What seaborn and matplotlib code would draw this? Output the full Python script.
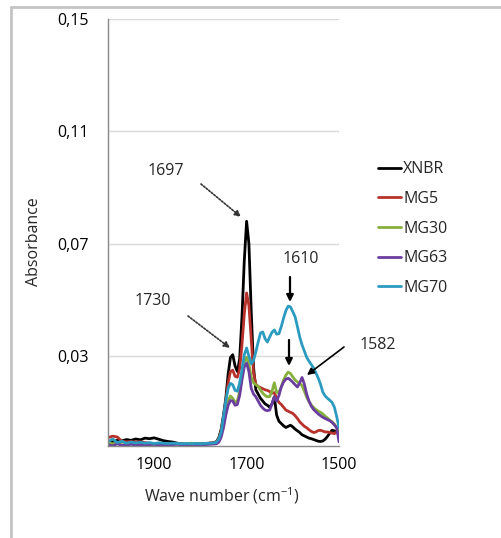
import numpy as np
import pandas as pd
import matplotlib
matplotlib.use("Agg")
import matplotlib.pyplot as plt
from matplotlib.ticker import FixedLocator, FuncFormatter
from matplotlib.lines import Line2D
import seaborn as sns

# ---------------- data ----------------
wavenumber = [2000, 1990, 1980, 1970, 1960, 1950, 1940, 1930, 1920, 1910, 1900, 1890,
              1880, 1870, 1860, 1850, 1840, 1830, 1820, 1810, 1800, 1790, 1780, 1770,
              1765, 1760, 1755, 1750, 1745, 1740, 1735, 1730, 1725, 1720, 1715, 1710,
              1705, 1700, 1695, 1690, 1685, 1680, 1675, 1670, 1665, 1660, 1655, 1650,
              1645, 1640, 1635, 1630, 1625, 1620, 1615, 1610, 1605, 1600, 1595, 1590,
              1585, 1580, 1575, 1570, 1565, 1560, 1555, 1550, 1545, 1540, 1535, 1530,
              1525, 1520, 1515, 1510, 1505, 1500]

xnbr = [-0.0015, -0.0005, 0.0000, -0.0002, 0.0003, 0.0000, 0.0005, 0.0002, 0.0008, 0.0006, 0.0009, 0.0004,
        -0.0001, -0.0004, -0.0006, -0.0010, -0.0012, -0.0014, -0.0014, -0.0012, -0.0013, -0.0011, -0.0010, -0.0008,
        -0.0004, 0.0010, 0.0040, 0.0090, 0.0150, 0.0235, 0.0295, 0.0305, 0.0265, 0.0245, 0.0290, 0.0440,
        0.0640, 0.0780, 0.0700, 0.0460, 0.0260, 0.0180, 0.0165, 0.0150, 0.0140, 0.0130, 0.0125, 0.0118,
        0.0130, 0.0155, 0.0090, 0.0068, 0.0060, 0.0052, 0.0046, 0.0050, 0.0054, 0.0048, 0.0040, 0.0034,
        0.0028, 0.0020, 0.0016, 0.0012, 0.0008, 0.0006, 0.0003, 0.0000, -0.0003, -0.0004, -0.0002, 0.0004,
        0.0014, 0.0026, 0.0036, 0.0034, 0.0030, 0.0025]

mg5 = [0.0010, 0.0015, 0.0012, -0.0003, -0.0005, -0.0004, -0.0006, -0.0005, -0.0008, -0.0010, -0.0012, -0.0010,
       -0.0011, -0.0012, -0.0013, -0.0012, -0.0013, -0.0014, -0.0013, -0.0012, -0.0012, -0.0011, -0.0010, -0.0008,
       -0.0005, 0.0008, 0.0035, 0.0080, 0.0140, 0.0205, 0.0245, 0.0250, 0.0228, 0.0225, 0.0255, 0.0340,
       0.0450, 0.0525, 0.0480, 0.0360, 0.0240, 0.0200, 0.0192, 0.0188, 0.0184, 0.0180, 0.0178, 0.0174,
       0.0168, 0.0170, 0.0150, 0.0135, 0.0128, 0.0118, 0.0108, 0.0104, 0.0100, 0.0096, 0.0088, 0.0078,
       0.0066, 0.0058, 0.0050, 0.0045, 0.0038, 0.0032, 0.0028, 0.0030, 0.0035, 0.0036, 0.0033, 0.0030,
       0.0030, 0.0028, 0.0026, 0.0024, 0.0030, 0.0036]

mg30 = [-0.0008, -0.0012, -0.0010, -0.0016, -0.0014, -0.0012, -0.0015, -0.0012, -0.0014, -0.0013, -0.0015, -0.0013,
        -0.0012, -0.0014, -0.0013, -0.0012, -0.0014, -0.0013, -0.0010, -0.0012, -0.0013, -0.0012, -0.0011, -0.0010,
        -0.0008, 0.0000, 0.0020, 0.0055, 0.0100, 0.0140, 0.0158, 0.0150, 0.0136, 0.0140, 0.0175, 0.0230,
        0.0280, 0.0296, 0.0270, 0.0225, 0.0205, 0.0198, 0.0192, 0.0180, 0.0168, 0.0160, 0.0155, 0.0156,
        0.0175, 0.0205, 0.0170, 0.0172, 0.0190, 0.0215, 0.0232, 0.0243, 0.0238, 0.0226, 0.0215, 0.0208,
        0.0202, 0.0195, 0.0175, 0.0154, 0.0138, 0.0126, 0.0117, 0.0110, 0.0104, 0.0100, 0.0094, 0.0086,
        0.0080, 0.0072, 0.0066, 0.0058, 0.0045, 0.0025]

mg63 = [-0.0015, -0.0020, -0.0012, -0.0018, -0.0016, -0.0014, -0.0016, -0.0015, -0.0017, -0.0015, -0.0014, -0.0016,
        -0.0015, -0.0016, -0.0015, -0.0014, -0.0016, -0.0015, -0.0014, -0.0015, -0.0016, -0.0015, -0.0014, -0.0013,
        -0.0012, -0.0006, 0.0012, 0.0045, 0.0090, 0.0125, 0.0142, 0.0140, 0.0125, 0.0128, 0.0160, 0.0215,
        0.0262, 0.0275, 0.0245, 0.0185, 0.0165, 0.0155, 0.0140, 0.0125, 0.0115, 0.0108, 0.0106, 0.0108,
        0.0130, 0.0155, 0.0140, 0.0160, 0.0190, 0.0208, 0.0218, 0.0221, 0.0215, 0.0207, 0.0198, 0.0190,
        0.0205, 0.0224, 0.0200, 0.0165, 0.0140, 0.0122, 0.0110, 0.0102, 0.0094, 0.0088, 0.0082, 0.0078,
        0.0074, 0.0070, 0.0064, 0.0055, 0.0045, -0.0005]

mg70 = [-0.0005, 0.0005, -0.0008, -0.0003, -0.0010, -0.0006, -0.0009, -0.0007, -0.0010, -0.0008, -0.0011, -0.0009,
        -0.0010, -0.0011, -0.0010, -0.0011, -0.0012, -0.0011, -0.0012, -0.0011, -0.0012, -0.0011, -0.0010, -0.0009,
        -0.0006, 0.0006, 0.0030, 0.0085, 0.0140, 0.0185, 0.0203, 0.0198, 0.0178, 0.0175, 0.0205, 0.0250,
        0.0305, 0.0329, 0.0300, 0.0272, 0.0285, 0.0315, 0.0350, 0.0382, 0.0386, 0.0362, 0.0350, 0.0368,
        0.0385, 0.0393, 0.0378, 0.0380, 0.0405, 0.0435, 0.0462, 0.0478, 0.0475, 0.0458, 0.0440, 0.0405,
        0.0368, 0.0340, 0.0318, 0.0296, 0.0282, 0.0270, 0.0258, 0.0240, 0.0222, 0.0200, 0.0172, 0.0158,
        0.0150, 0.0143, 0.0135, 0.0118, 0.0085, 0.0046]

series_names = ["XNBR", "MG5", "MG30", "MG63", "MG70"]
series_values = [xnbr, mg5, mg30, mg63, mg70]
y_tick_values = [0.03, 0.07, 0.11, 0.15]
x_tick_values = [1900, 1700, 1500]

colors = {"XNBR": "#000000", "MG5": "#B8312B", "MG30": "#86B03C",
          "MG63": "#6A3D9F", "MG70": "#2C9BC0"}

# ---------------- build frame ----------------
frames = []
for name, vals in zip(series_names, series_values):
    assert len(vals) == len(wavenumber), name
    frames.append(pd.DataFrame({"wn": wavenumber, "abs": vals, "series": name}))
df = pd.concat(frames, ignore_index=True)

# ---------------- plot ----------------
sns.set_theme(style="white")
plt.rcParams["font.family"] = ["Open Sans", "DejaVu Sans"]
plt.rcParams["mathtext.default"] = "regular"
FS = 11.5

W, H = 502, 538
fig = plt.figure(figsize=(W / 100, H / 100), dpi=100)
ax = fig.add_axes([108 / W, 1 - 446 / H, (339 - 108) / W, (446 - 19) / H])

sns.lineplot(data=df, x="wn", y="abs", hue="series", palette=colors,
             hue_order=series_names, linewidth=2.0, ax=ax, legend=True)

ax.set_xlim(2000, 1500)
ax.set_ylim(-0.002, 0.15)

ax.yaxis.set_major_locator(FixedLocator(y_tick_values))
ax.yaxis.set_minor_locator(FixedLocator([0.15 - 0.008 * i for i in range(20) if 0.15 - 0.008 * i > -0.0025]))
ax.xaxis.set_major_locator(FixedLocator(x_tick_values))
ax.xaxis.set_minor_locator(FixedLocator(list(range(2000, 1499, -40))))
ax.yaxis.set_major_formatter(FuncFormatter(lambda v, p: f"{v:.2f}".replace(".", ",")))
ax.xaxis.set_major_formatter(FuncFormatter(lambda v, p: f"{int(round(v))}"))

ax.grid(axis="y", which="major", color="#D9D9D9", linewidth=1.0)
ax.grid(axis="x", visible=False)
for s in ["top", "right"]:
    ax.spines[s].set_visible(False)
for s in ["left", "bottom"]:
    ax.spines[s].set_color("#888888")
    ax.spines[s].set_linewidth(1.0)
ax.tick_params(axis="both", which="both", direction="out", color="#888888",
               length=4, width=1, labelsize=FS, labelcolor="#000000")
ax.tick_params(axis="x", which="major", pad=4)
ax.tick_params(axis="y", which="major", pad=10)
ax.set_xlabel("")
ax.set_ylabel("")

fig.text(34 / W, 1 - 242 / H, "Absorbance", rotation=90, ha="center", va="center", fontsize=FS)
fig.text(222 / W, 1 - 496 / H, "Wave number (cm$^{-1}$)", ha="center", va="center", fontsize=FS)

# legend
leg = ax.legend(loc="upper left", bbox_to_anchor=(372 / W, 1 - 155 / H),
                bbox_transform=fig.transFigure, frameon=False, fontsize=FS,
                handlelength=1.4, handletextpad=0.15, labelspacing=0.85, borderaxespad=0)
for line in leg.get_lines():
    line.set_linewidth(2.0)

# annotations (positions in figure pixels, top-left origin)
def fp(px, py):
    return (px / W, 1 - py / H)

ax.annotate("", xy=fp(241, 217), xytext=fp(201, 184), xycoords="figure fraction",
            textcoords="figure fraction",
            arrowprops=dict(arrowstyle="-|>", linestyle=(0, (1, 1)), lw=1.2, color="#333333",
                            shrinkA=0, shrinkB=0, mutation_scale=9), annotation_clip=False)
ax.text(*fp(166, 171), "1697", transform=fig.transFigure, ha="center", va="center", fontsize=FS)
ax.annotate("", xy=fp(230, 348), xytext=fp(188, 316), xycoords="figure fraction",
            textcoords="figure fraction",
            arrowprops=dict(arrowstyle="-|>", linestyle=(0, (1, 1)), lw=1.2, color="#333333",
                            shrinkA=0, shrinkB=0, mutation_scale=9), annotation_clip=False)
ax.text(*fp(153, 301), "1730", transform=fig.transFigure, ha="center", va="center", fontsize=FS)
ax.text(*fp(301, 259), "1610", transform=fig.transFigure, ha="center", va="center", fontsize=FS)
ax.annotate("", xy=fp(290, 302), xytext=fp(290, 277), xycoords="figure fraction",
            textcoords="figure fraction",
            arrowprops=dict(arrowstyle="-|>", lw=1.6, color="#000000", shrinkA=0, shrinkB=0,
                            mutation_scale=10), annotation_clip=False)
ax.annotate("", xy=fp(289, 366), xytext=fp(289, 340), xycoords="figure fraction",
            textcoords="figure fraction",
            arrowprops=dict(arrowstyle="-|>", lw=1.6, color="#000000", shrinkA=0, shrinkB=0,
                            mutation_scale=10), annotation_clip=False)
ax.annotate("", xy=fp(307, 375), xytext=fp(344, 347), xycoords="figure fraction",
            textcoords="figure fraction",
            arrowprops=dict(arrowstyle="-|>", lw=1.2, color="#000000", shrinkA=0, shrinkB=0,
                            mutation_scale=10), annotation_clip=False)
ax.text(*fp(378, 345), "1582", transform=fig.transFigure, ha="center", va="center", fontsize=FS)

# chart-area border (top and left only)
fig.add_artist(Line2D([11 / W, 1.0], [1 - 7 / H, 1 - 7 / H], transform=fig.transFigure,
                      color="#C4C4C4", linewidth=2.0))
fig.add_artist(Line2D([11 / W, 11 / W], [0.0, 1 - 7 / H], transform=fig.transFigure,
                      color="#C4C4C4", linewidth=2.0))

fig.savefig("out.png", dpi=100)
